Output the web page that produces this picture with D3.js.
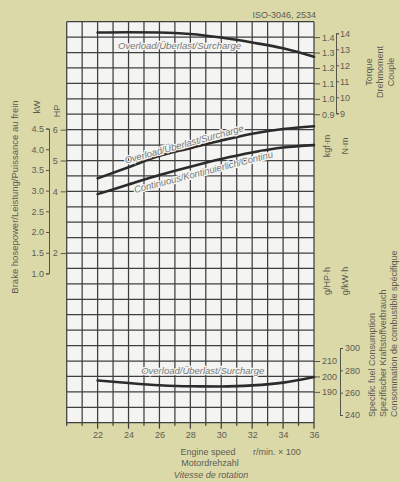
<!DOCTYPE html>
<html>
<head>
<meta charset="utf-8">
<script src="https://cdn.jsdelivr.net/npm/d3@7"></script>
<style>
  html, body { margin: 0; padding: 0; background: #dcd9a9; }
  svg text { font-family: "Liberation Sans", Arial, sans-serif; fill: #5c5c52; }
  .axis path, .axis line { stroke: #55554c; stroke-width: 1; }
  .axis text { font-size: 9px; fill: #5c5c52; }
</style>
</head>
<body>
<div id="chart"></div>
<script>
// engine speed (r/min x 100) where the curves were read
var rpm = [22, 24, 26, 28, 30, 32, 34, 36];
// torque, kgf.m (overload)
var torqueOverload = [1.430, 1.432, 1.430, 1.420, 1.397, 1.365, 1.328, 1.273];
// brake horsepower, HP
var powerOverload = [4.42, 4.78, 5.15, 5.40, 5.65, 5.87, 6.02, 6.11];
var powerContinuous = [3.91, 4.22, 4.53, 4.80, 5.05, 5.26, 5.42, 5.50];
// specific fuel consumption, g/HP.h (overload)
var fuelOverload = [197.4, 195.7, 194.3, 193.6, 193.5, 194.2, 196.0, 199.6];

// tick labels
var xTicks = [22, 24, 26, 28, 30, 32, 34, 36];
var kwTicks = [4.5, 4.0, 3.5, 3.0, 2.5, 2.0, 1.5, 1.0];
var hpTicks = [6, 5, 4, 2];
var kgfmTicks = [1.4, 1.3, 1.2, 1.1, 1.0, 0.9];
var nmTicks = [14, 13, 12, 11, 10, 9];
var ghphTicks = [210, 200, 190];
var gkwhTicks = [300, 280, 260, 240];

var W = 400, H = 482;
var svg = d3.select('#chart').append('svg').attr('width', W).attr('height', H);
svg.append('rect').attr('width', W).attr('height', H).attr('fill', '#dcd9a9');

// grid: 16 columns (20..36), 26 rows
var x = d3.scaleLinear().domain([20, 36]).range([66.7, 314]);
var row = d3.scaleLinear().domain([0, 26]).range([21.7, 422.7]);

var yTorque = d3.scaleLinear().domain([0.9, 1.4]).range([row(6), row(1)]);
var yNm = d3.scaleLinear().domain([9, 14]).range([113.3, 33.3]);
var yHP = d3.scaleLinear().domain([0, 6]).range([row(19), row(7)]);
var yKW = d3.scaleLinear().domain([1.0, 4.5]).range([yHP(1.0 * 1.341), yHP(4.5 * 1.341)]);
var yFuel = d3.scaleLinear().domain([190, 210]).range([row(24), row(22)]);
var yFuelKW = d3.scaleLinear().domain([240, 300]).range([415, 348]);

svg.append('rect')
  .attr('x', x(20)).attr('y', row(0))
  .attr('width', x(36) - x(20)).attr('height', row(26) - row(0))
  .attr('fill', '#f4f5f2');

var grid = svg.append('g').attr('stroke', '#3f3f3f').attr('stroke-width', 1.25);
grid.selectAll('line.v').data(d3.range(20, 37)).enter().append('line')
  .attr('x1', function(d){ return x(d); }).attr('x2', function(d){ return x(d); })
  .attr('y1', row(0)).attr('y2', function(d){ return row(26) + (d % 2 === 0 && d > 20 ? 6 : 3); });
grid.selectAll('line.h').data(d3.range(0, 27)).enter().append('line')
  .attr('x1', x(20)).attr('x2', x(36))
  .attr('y1', function(d){ return row(d); }).attr('y2', function(d){ return row(d); });

// axes
var fmt1 = d3.format('.1f');
var fmt0 = d3.format('d');

svg.append('g').attr('class', 'axis')
  .attr('transform', 'translate(0,' + row(26) + ')')
  .call(d3.axisBottom(x).tickValues(xTicks).tickFormat(fmt0).tickSize(0).tickPadding(9))
  .call(function(g){ g.select('.domain').remove(); });

svg.append('g').attr('class', 'axis')
  .attr('transform', 'translate(49,0)')
  .call(d3.axisLeft(yKW).tickValues(kwTicks).tickFormat(fmt1).tickSize(3).tickSizeOuter(3).tickPadding(2));

svg.append('g').attr('class', 'axis')
  .attr('transform', 'translate(' + x(20) + ',0)')
  .call(d3.axisLeft(yHP).tickValues(hpTicks).tickFormat(fmt0).tickSize(6).tickPadding(3))
  .call(function(g){ g.select('.domain').remove(); });

svg.append('g').attr('class', 'axis')
  .attr('transform', 'translate(' + x(36) + ',0)')
  .call(d3.axisRight(yTorque).tickValues(kgfmTicks).tickFormat(fmt1).tickSize(6).tickPadding(2))
  .call(function(g){ g.select('.domain').remove(); });

svg.append('g').attr('class', 'axis')
  .attr('transform', 'translate(336,0)')
  .call(d3.axisRight(yNm).tickValues(nmTicks).tickFormat(fmt0).tickSize(3).tickSizeOuter(3).tickPadding(1));

svg.append('g').attr('class', 'axis')
  .attr('transform', 'translate(' + x(36) + ',0)')
  .call(d3.axisRight(yFuel).tickValues(ghphTicks).tickFormat(fmt0).tickSize(6).tickPadding(2))
  .call(function(g){ g.select('.domain').remove(); });

svg.append('g').attr('class', 'axis')
  .attr('transform', 'translate(340,0)')
  .call(d3.axisRight(yFuelKW).tickValues(gkwhTicks).tickFormat(fmt0).tickSize(3).tickSizeOuter(3).tickPadding(2));

// curves
function curve(vals, yScale) {
  return d3.line()
    .x(function(d, i){ return x(rpm[i]); })
    .y(function(d){ return yScale(d); })
    .curve(d3.curveMonotoneX)(vals);
}
var curves = svg.append('g').attr('fill', 'none').attr('stroke', '#2b2b2b')
  .attr('stroke-width', 2.6).attr('stroke-linecap', 'round');
curves.append('path').attr('d', curve(torqueOverload, yTorque));
curves.append('path').attr('d', curve(powerOverload, yHP));
curves.append('path').attr('d', curve(powerContinuous, yHP));
curves.append('path').attr('d', curve(fuelOverload, yFuel));

// curve labels
function curveLabel(txt, cx, cy, ang) {
  svg.append('text')
    .attr('transform', 'translate(' + cx + ',' + cy + ') rotate(' + ang + ')')
    .attr('text-anchor', 'middle')
    .style('font-size', '9.5px').style('font-style', 'italic')
    .style('fill', '#787878').style('stroke', '#f4f5f2').style('stroke-width', 2.5)
    .style('paint-order', 'stroke')
    .text(txt);
}
curveLabel('Overload/Überlast/Surcharge', x(27.3), yTorque(1.432) + 17, 0);
curveLabel('Overload/Überlast/Surcharge', x(27.65), yHP(5.36) - 2, -15.5);
curveLabel('Continuous/Kontinuierlich/Continu', x(28.9), yHP(4.95) + 13, -14.5);
curveLabel('Overload/Überlast/Surcharge', x(28.8), yFuel(193.6) - 12, 0);

// titles
function vtext(txt, tx, ty, anchor, size) {
  svg.append('text')
    .attr('transform', 'translate(' + tx + ',' + ty + ') rotate(-90)')
    .attr('text-anchor', anchor || 'middle')
    .style('font-size', (size || 9) + 'px')
    .text(txt);
}
vtext('Brake hosepower/Leistung/Puissance au frein', 18, 197, 'middle', 9.5);
vtext('kW', 40, 107);
vtext('HP', 60, 111);
vtext('kgf·m', 330, 146);
vtext('N·m', 348, 146);
vtext('g/HP·h', 330, 281);
vtext('g/kW·h', 348, 281);
vtext('Torque', 372, 72);
vtext('Drehmoment', 383, 72);
vtext('Couple', 394, 72);
vtext('Specific fuel Consumption', 375, 417, 'start');
vtext('Spezifischer Kraftstoffverbrauch', 386, 417, 'start');
vtext('Consommation de combustible spécifique', 397, 417, 'start');

svg.append('text').attr('x', 316).attr('y', 18).attr('text-anchor', 'end')
  .style('font-size', '9px').text('ISO-3046, 2534');

svg.append('text').attr('x', 208).attr('y', 455).attr('text-anchor', 'middle')
  .style('font-size', '9px').text('Engine speed');
svg.append('text').attr('x', 253).attr('y', 455)
  .style('font-size', '9px').text('r/min. × 100');
svg.append('text').attr('x', 210).attr('y', 466).attr('text-anchor', 'middle')
  .style('font-size', '9px').text('Motordrehzahl');
svg.append('text').attr('x', 211).attr('y', 478).attr('text-anchor', 'middle')
  .style('font-size', '9px').style('font-style', 'italic').text('Vitesse de rotation');
</script>
</body>
</html>
